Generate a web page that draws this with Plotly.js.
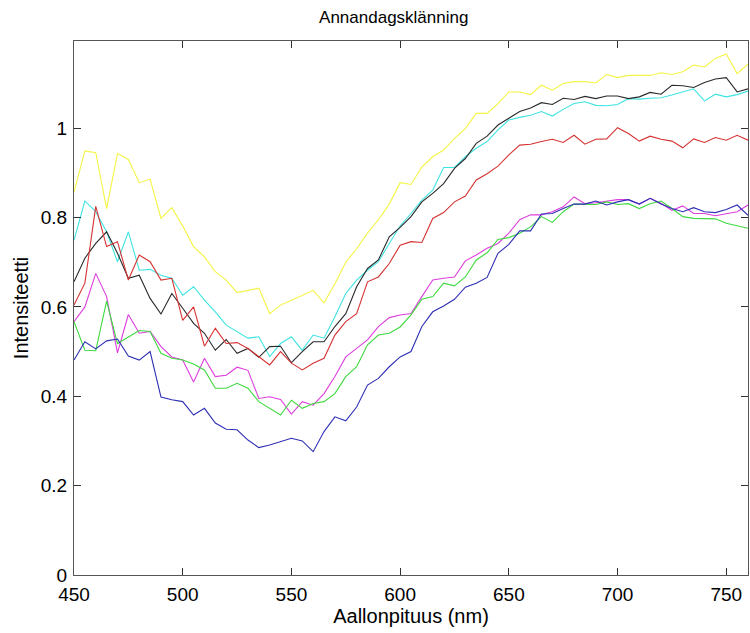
<!DOCTYPE html>
<html>
<head>
<meta charset="utf-8">
<script src="https://cdn.plot.ly/plotly-3.0.1.min.js"></script>
<style>html,body{margin:0;padding:0;background:#fff;}#chart{width:750px;height:633px;}</style>
</head>
<body>
<div id="chart"></div>
<script>
const wavelength = [450,455,460,465,470,475,480,485,490,495,500,505,510,515,520,525,530,535,540,545,550,555,560,565,570,575,580,585,590,595,600,605,610,615,620,625,630,635,640,645,650,655,660,665,670,675,680,685,690,695,700,705,710,715,720,725,730,735,740,745,750,755,760];

const yellowSeries = [0.857,0.949,0.945,0.820,0.943,0.930,0.878,0.886,0.798,0.822,0.781,0.735,0.712,0.679,0.660,0.632,0.637,0.642,0.585,0.604,0.615,0.626,0.637,0.609,0.652,0.700,0.730,0.765,0.795,0.830,0.878,0.874,0.913,0.936,0.951,0.977,0.999,1.033,1.033,1.055,1.081,1.081,1.075,1.096,1.085,1.100,1.104,1.104,1.101,1.120,1.113,1.118,1.118,1.118,1.124,1.120,1.126,1.141,1.137,1.156,1.166,1.122,1.143];

const cyanSeries = [0.749,0.837,0.813,0.768,0.701,0.768,0.682,0.684,0.671,0.664,0.626,0.645,0.615,0.589,0.559,0.545,0.530,0.533,0.489,0.518,0.533,0.503,0.537,0.530,0.578,0.630,0.660,0.682,0.701,0.742,0.781,0.809,0.839,0.861,0.912,0.912,0.936,0.955,0.970,0.996,1.018,1.024,1.029,1.037,1.027,1.042,1.055,1.059,1.051,1.050,1.053,1.066,1.065,1.067,1.068,1.074,1.081,1.088,1.061,1.076,1.070,1.075,1.083];

const blackSeries = [0.656,0.709,0.742,0.768,0.720,0.664,0.671,0.619,0.584,0.630,0.597,0.563,0.541,0.503,0.527,0.496,0.507,0.487,0.511,0.512,0.475,0.500,0.522,0.522,0.556,0.585,0.645,0.686,0.705,0.757,0.778,0.802,0.835,0.854,0.876,0.910,0.932,0.966,0.982,1.007,1.022,1.037,1.045,1.057,1.053,1.067,1.064,1.071,1.066,1.072,1.072,1.066,1.070,1.080,1.076,1.096,1.095,1.091,1.102,1.110,1.113,1.081,1.088];

const redSeries = [0.604,0.653,0.825,0.735,0.746,0.660,0.716,0.701,0.660,0.664,0.570,0.600,0.512,0.552,0.518,0.520,0.507,0.488,0.470,0.500,0.474,0.459,0.474,0.485,0.537,0.567,0.585,0.656,0.667,0.697,0.738,0.746,0.744,0.798,0.811,0.835,0.848,0.884,0.898,0.915,0.940,0.962,0.964,0.970,0.975,0.968,0.984,0.964,0.975,0.976,1.001,0.988,0.971,0.982,0.975,0.971,0.956,0.976,0.968,0.979,0.973,0.984,0.973];

const magentaSeries = [0.567,0.600,0.675,0.623,0.497,0.583,0.541,0.545,0.511,0.488,0.481,0.432,0.485,0.444,0.447,0.465,0.458,0.395,0.399,0.393,0.360,0.388,0.380,0.406,0.444,0.488,0.507,0.526,0.556,0.576,0.582,0.585,0.623,0.660,0.664,0.667,0.703,0.716,0.731,0.742,0.765,0.795,0.806,0.806,0.813,0.824,0.846,0.831,0.833,0.837,0.840,0.840,0.830,0.843,0.832,0.816,0.826,0.809,0.809,0.804,0.809,0.813,0.828];

const greenSeries = [0.567,0.503,0.502,0.613,0.518,0.533,0.547,0.545,0.496,0.485,0.481,0.472,0.459,0.418,0.418,0.429,0.418,0.388,0.373,0.358,0.391,0.373,0.384,0.388,0.406,0.444,0.466,0.515,0.537,0.541,0.555,0.582,0.617,0.623,0.653,0.647,0.667,0.705,0.721,0.751,0.755,0.765,0.779,0.802,0.789,0.813,0.830,0.830,0.829,0.835,0.829,0.831,0.820,0.831,0.837,0.820,0.802,0.798,0.797,0.797,0.787,0.781,0.776];

const blueSeries = [0.481,0.522,0.506,0.524,0.528,0.490,0.481,0.500,0.398,0.392,0.388,0.358,0.373,0.340,0.326,0.325,0.302,0.285,0.291,0.298,0.306,0.300,0.276,0.321,0.354,0.345,0.376,0.425,0.440,0.466,0.488,0.500,0.556,0.589,0.602,0.617,0.644,0.653,0.666,0.720,0.740,0.770,0.770,0.808,0.809,0.820,0.830,0.830,0.837,0.828,0.835,0.840,0.830,0.843,0.830,0.820,0.813,0.822,0.813,0.811,0.818,0.828,0.805];

const xTicks = [450,500,550,600,650,700,750];
const yTicks = [0,0.2,0.4,0.6,0.8,1];
const yTickText = ['0','0.2','0.4','0.6','0.8','1'];

const seriesList = [
  {y: yellowSeries, color: '#f4f444'},
  {y: cyanSeries, color: '#3fe3e3'},
  {y: blackSeries, color: '#2a2a2a'},
  {y: redSeries, color: '#d63232'},
  {y: magentaSeries, color: '#dd3fdd'},
  {y: greenSeries, color: '#3fd93f'},
  {y: blueSeries, color: '#2f2fb5'}
];

const traces = seriesList.map(s => ({
  x: wavelength, y: s.y, type: 'scatter', mode: 'lines',
  line: {color: s.color, width: 1.1}, hoverinfo: 'skip'
}));

const font = {family: 'Liberation Sans, Arial, sans-serif', color: '#000'};

const layout = {
  width: 750, height: 633,
  margin: {l: 74, r: 2, t: 41, b: 58},
  paper_bgcolor: '#fff', plot_bgcolor: '#fff',
  showlegend: false,
  title: {text: 'Annandagsklänning', font: Object.assign({size: 17}, font), x: 0.525, xanchor: 'center', y: 0.982, yanchor: 'top'},
  xaxis: {
    range: [450, 760], tickvals: xTicks, ticktext: xTicks.map(String),
    ticks: 'inside', ticklen: 7, tickcolor: '#333', tickwidth: 1,
    showline: true, linecolor: '#555', linewidth: 1, mirror: 'ticks',
    showgrid: false, zeroline: false, ticklabelstandoff: 2,
    tickfont: Object.assign({size: 19}, font),
    title: {text: 'Aallonpituus (nm)', font: Object.assign({size: 20}, font), standoff: 2}
  },
  yaxis: {
    range: [0, 1.195], tickvals: yTicks, ticktext: yTickText,
    ticks: 'inside', ticklen: 7, tickcolor: '#333', tickwidth: 1,
    showline: true, linecolor: '#555', linewidth: 1, mirror: 'ticks',
    showgrid: false, zeroline: false, ticklabelstandoff: 2,
    tickfont: Object.assign({size: 19}, font),
    title: {text: 'Intensiteetti', font: Object.assign({size: 20}, font), standoff: 6}
  }
};

Plotly.newPlot('chart', traces, layout, {displayModeBar: false, staticPlot: true});
</script>
</body>
</html>
